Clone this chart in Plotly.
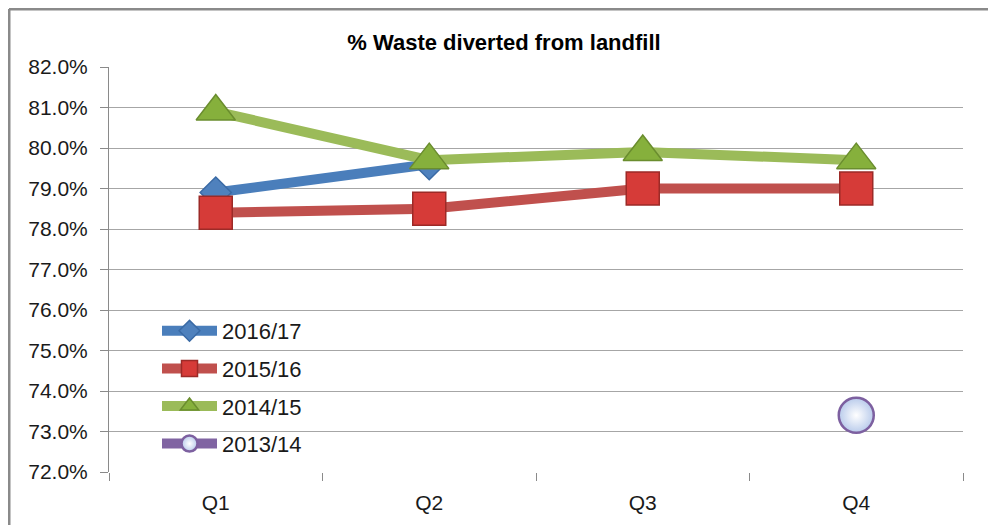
import plotly.graph_objects as go

quarters = ["Q1", "Q2", "Q3", "Q4"]
s_2016_17 = [78.9, 79.6, None, None]
s_2015_16 = [78.4, 78.5, 79.0, 79.0]
s_2014_15 = [80.9, 79.7, 79.9, 79.7]
s_2013_14 = [None, None, None, 73.4]
y_ticks = [72, 73, 74, 75, 76, 77, 78, 79, 80, 81, 82]
y_tick_labels = ["72.0%", "73.0%", "74.0%", "75.0%", "76.0%", "77.0%",
                 "78.0%", "79.0%", "80.0%", "81.0%", "82.0%"]

FONT = "Liberation Sans, Arial, sans-serif"

# page body adds an 8px offset; work in screen coords and subtract it
OFF = 8
W, H = 996 - OFF, 525 - OFF
L, T = 109 - OFF, 67 - OFF
B = H - (472 - OFF)
R = W - (963 - OFF)
pw, ph = W - L - R, H - T - B


def px_x(sx):
    return (sx - OFF - L) / pw


def px_y(sy):
    return (H - B - (sy - OFF)) / ph


fig = go.Figure()

series = [
    ("2016/17", s_2016_17, "#4a7ebb", "diamond", 24, "#4f81bd", "#3a6aa5", None),
    ("2015/16", s_2015_16, "#c0504d", "square", 33, "#d63b38", "#9c2a27", None),
    ("2014/15", s_2014_15, "#9bbb59", "triangle-up", 34, "#86b03c", "#6a8d2e", None),
    ("2013/14", s_2013_14, "#8064a2", "circle", 35, "#b9cbeb", "#7d60a0", "#ffffff"),
]

for i, (name, vals, lc, sym, ms, mfill, mline, grad) in enumerate(series):
    marker = dict(symbol=sym, size=ms, color=mfill, line=dict(color=mline, width=1.5))
    if grad:
        marker["line"]["width"] = 2.5
        marker["gradient"] = dict(type="radial", color=grad)
    fig.add_trace(go.Scatter(
        x=quarters, y=vals, name=name, mode="lines+markers",
        line=dict(color=lc, width=10),
        marker=marker,
        legendgroup=f"g{i}",
        connectgaps=False,
    ))

# outer chart frame
fig.add_shape(type="line", xref="paper", yref="paper",
              x0=px_x(9), x1=px_x(1010), y0=px_y(9), y1=px_y(9),
              line=dict(color="#8a8a8a", width=3))
fig.add_shape(type="line", xref="paper", yref="paper",
              x0=px_x(9), x1=px_x(9), y0=px_y(9), y1=px_y(540),
              line=dict(color="#8a8a8a", width=3))

fig.update_layout(
    width=W, height=H,
    margin=dict(l=L, r=R, t=T, b=B),
    paper_bgcolor="white", plot_bgcolor="white",
    font=dict(family=FONT, size=21, color="#1a1a1a"),
    title=dict(text="<b>% Waste diverted from landfill</b>", x=(504 - OFF) / W, xanchor="center",
               y=1 - (42 - OFF) / H, yanchor="middle", yref="container",
               font=dict(family=FONT, size=22, color="#000000")),
    showlegend=True,
    legend=dict(x=px_x(157), y=px_y(310), xanchor="left", yanchor="top",
                bgcolor="rgba(0,0,0,0)", tracegroupgap=6, itemwidth=55,
                font=dict(family=FONT, size=22, color="#1a1a1a")),
    xaxis=dict(
        type="category", range=[-0.5, 3.5], showgrid=False, showline=False,
        ticks="outside", tickson="boundaries", ticklen=8, tickcolor="#8a8a8a",
        tickfont=dict(family=FONT, size=21, color="#1a1a1a"),
        ticklabelstandoff=16,
        zeroline=False,
    ),
    yaxis=dict(
        range=[72, 82], tickvals=y_ticks, ticktext=y_tick_labels,
        showgrid=True, gridcolor="#a6a6a6", gridwidth=1,
        showline=True, linecolor="#8a8a8a", linewidth=1,
        ticks="outside", ticklen=8, tickcolor="#8a8a8a",
        tickfont=dict(family=FONT, size=21, color="#1a1a1a"),
        ticklabelstandoff=8,
        zeroline=False,
    ),
)

fig.write_html("out.html")
